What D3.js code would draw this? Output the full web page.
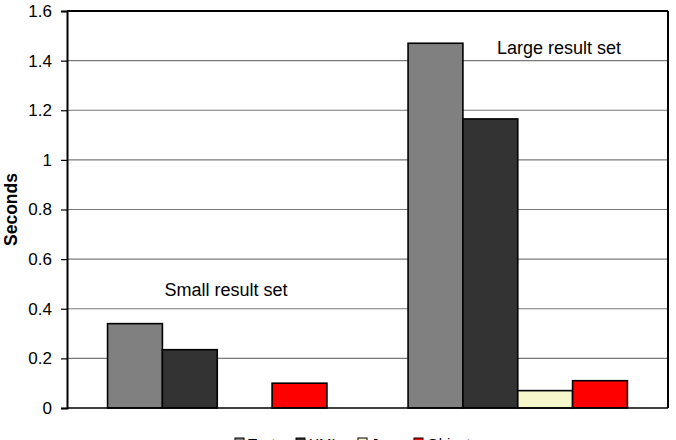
<!DOCTYPE html>
<html><head><meta charset="utf-8">
<script src="https://cdn.jsdelivr.net/npm/d3@7"></script>
<style>body{margin:0;background:#fff}svg{display:block;font-family:"Liberation Sans",Arial,sans-serif}</style>
</head><body><svg id="c" width="676" height="440"></svg>
<script>
const categories = ["Small result set", "Large result set"];
const seriesNames = ["Text", "XML", "Java", "Object"];
const seriesColors = ["#808080", "#333333", "#f7f7cc", "#ff0000"];
const textValues = [0.34, 1.47];
const xmlValues = [0.235, 1.165];
const javaValues = [0.0, 0.07];
const objectValues = [0.1, 0.11];
const yTicks = [0, 0.2, 0.4, 0.6, 0.8, 1, 1.2, 1.4, 1.6];

const series = [textValues, xmlValues, javaValues, objectValues];
const svg = d3.select("#c");
const L = 67, R = 668, T = 11, B = 408;
const y = d3.scaleLinear().domain([0, 1.6]).range([B, T]);
const x0 = d3.scaleBand().domain(categories).range([L, R]).paddingInner(0.27).paddingOuter(0.135);
const x1 = d3.scaleBand().domain(seriesNames).range([0, x0.bandwidth()]);

// gridlines
svg.append("g").selectAll("line").data(yTicks.filter(d => d > 0 && d < 1.6)).join("line")
  .attr("x1", L).attr("x2", R).attr("y1", d => y(d)).attr("y2", d => y(d))
  .attr("stroke", "#7a7a7a").attr("stroke-width", 1.2);

// bars
categories.forEach((c, ci) => {
  series.forEach((s, si) => {
    svg.append("rect")
      .attr("x", x0(c) + x1(seriesNames[si]))
      .attr("y", y(s[ci]))
      .attr("width", x1.bandwidth())
      .attr("height", B - y(s[ci]))
      .attr("fill", seriesColors[si])
      .attr("stroke", "#000").attr("stroke-width", 1.6);
  });
});

// frame
svg.append("line").attr("x1", L).attr("x2", R).attr("y1", T).attr("y2", T).attr("stroke", "#000").attr("stroke-width", 2);
svg.append("line").attr("x1", R).attr("x2", R).attr("y1", T).attr("y2", B).attr("stroke", "#000").attr("stroke-width", 2);
svg.append("line").attr("x1", L).attr("x2", R).attr("y1", B).attr("y2", B).attr("stroke", "#000").attr("stroke-width", 1.5);

// y axis
const ax = svg.append("g").attr("transform", `translate(${L},0)`)
  .call(d3.axisLeft(y).tickValues(yTicks).tickSize(6).tickPadding(9).tickFormat(d3.format("")));
ax.select(".domain").attr("stroke", "#000").attr("stroke-width", 2);
ax.selectAll(".tick line").attr("stroke", "#000").attr("stroke-width", 1.2);
ax.selectAll(".tick text").attr("font-size", 17).attr("fill", "#000").attr("font-family", "Liberation Sans, Arial, sans-serif");

svg.append("text").attr("transform", `translate(17,${(T + B) / 2}) rotate(-90)`)
  .attr("text-anchor", "middle").attr("font-size", 17.5).attr("font-weight", "bold").text("Seconds");

// annotations
svg.append("text").attr("x", 226).attr("y", 296)
  .attr("text-anchor", "middle").attr("font-size", 18).text(categories[0]);
svg.append("text").attr("x", 559).attr("y", 54)
  .attr("text-anchor", "middle").attr("font-size", 18).text(categories[1]);

// legend (mostly clipped at bottom, as in the reference)
const legX = [235, 296, 358, 414];
seriesNames.forEach((n, i) => {
  svg.append("rect").attr("x", legX[i]).attr("y", 438).attr("width", 9).attr("height", 9)
    .attr("fill", seriesColors[i]).attr("stroke", "#000");
  svg.append("text").attr("x", legX[i] + 13).attr("y", 449).attr("font-size", 15).text(n);
});
</script></body></html>
